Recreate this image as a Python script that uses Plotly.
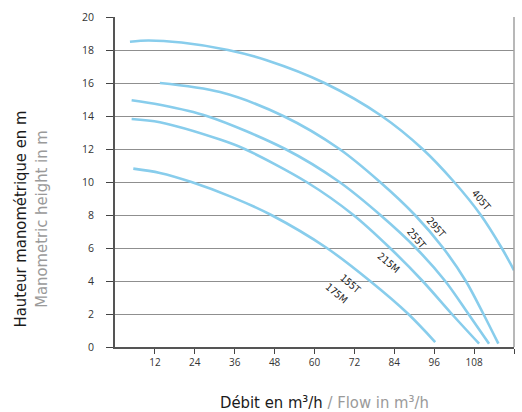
import plotly.graph_objects as go

# ---- data ----
x_405T = [4.5, 10, 20, 34, 45.6, 63, 80.2, 92.5, 102, 110, 116.3, 120]
y_405T = [18.5, 18.58, 18.45, 18, 17.38, 16, 14, 12, 10, 8, 6, 4.65]

x_295T = [13.5, 31.6, 50.6, 67.5, 79.7, 90.2, 98.7, 105.5, 110.8, 115.3]
y_295T = [16, 15.45, 14, 12, 10, 8, 6, 4, 2, 0.2]

x_255T = [5, 13.5, 27.6, 51.2, 67.5, 79.8, 90.5, 99.3, 106.3, 112.5]
y_255T = [14.95, 14.68, 14, 12, 10, 8, 6, 4, 2, 0.2]

x_215M = [5, 13.5, 31.6, 39, 57.6, 71.7, 82.7, 92.5, 101.3, 109.5]
y_215M = [13.82, 13.62, 12.57, 12, 10, 8, 6, 4, 2, 0.2]

x_175M = [5.5, 13.5, 23, 35, 47, 63.7, 76.7, 88.2, 96.3]
y_175M = [10.81, 10.55, 10, 9.1, 8, 6, 4, 2, 0.3]

series = [
    ("405T", x_405T, y_405T),
    ("295T", x_295T, y_295T),
    ("255T", x_255T, y_255T),
    ("215M", x_215M, y_215M),
    ("155T / 175M", x_175M, y_175M),
]

label_text = ["405T", "295T", "255T", "215M", "155T", "175M"]
label_x = [110.3, 96.7, 90.7, 82.2, 70.7, 66.7]
label_y = [8.9, 7.27, 6.57, 5.1, 3.84, 3.24]
label_angle = [50, 48, 50, 40, 40, 40]

x_ticks = [12, 24, 36, 48, 60, 72, 84, 96, 108, 120]
y_ticks = [0, 2, 4, 6, 8, 10, 12, 14, 16, 18, 20]

CURVE = "#88cdec"
COND = "Liberation Sans Narrow, DejaVu Sans Condensed, Arial Narrow, sans-serif"

fig = go.Figure()
for name, xs, ys in series:
    fig.add_trace(go.Scatter(x=xs, y=ys, mode="lines", name=name,
                             line=dict(color=CURVE, width=2.6, shape="spline", smoothing=0.9),
                             hoverinfo="skip", showlegend=False))

for t, lx, ly, a in zip(label_text, label_x, label_y, label_angle):
    fig.add_annotation(x=lx, y=ly, text=t, showarrow=False, textangle=a,
                       font=dict(family=COND, size=10, color="#222"))

# axis titles
fig.add_annotation(xref="paper", yref="paper", x=-0.21, y=0.387,
                   text="Hauteur manométrique en m<br><span style='color:#9a9a9a'>Manometric height in m</span>",
                   showarrow=False, textangle=-90, xanchor="center", yanchor="middle",
                   font=dict(family=COND, size=16.5, color="#1a1a1a"))
fig.add_annotation(xref="paper", yref="paper", x=0.526, y=-0.167,
                   text="Débit en m³/h <span style='color:#9a9a9a'>/ Flow in m³/h</span>",
                   showarrow=False, xanchor="center", yanchor="middle",
                   font=dict(family=COND, size=16.5, color="#1a1a1a"))

# right border
fig.add_shape(type="line", xref="paper", yref="paper", x0=1, x1=1, y0=0, y1=1,
              line=dict(color="#a0a0a0", width=1.5))

fig.update_xaxes(range=[0, 120], tickvals=x_ticks, ticks="outside", ticklen=5,
                 tickcolor="#444", tickwidth=1, showgrid=False, zeroline=False,
                 showline=True, linecolor="#555", linewidth=2,
                 tickfont=dict(family="Open Sans, sans-serif", size=10, color="#333"))
fig.update_yaxes(range=[0, 20], tickvals=y_ticks, ticks="outside", ticklen=7,
                 tickcolor="#444", tickwidth=1, showgrid=True, gridcolor="#8f8f8f",
                 gridwidth=1, zeroline=False, showline=True, linecolor="#555", linewidth=2,
                 ticklabelstandoff=10,
                 tickfont=dict(family="Open Sans, sans-serif", size=10.5, color="#333"))

fig.update_layout(width=522, height=412, margin=dict(l=115, r=8, t=17, b=65),
                  plot_bgcolor="white", paper_bgcolor="white", showlegend=False)

fig.write_html("out.html", config={"displayModeBar": False},
               post_script="document.body.style.margin='0';document.body.style.overflow='hidden';")
